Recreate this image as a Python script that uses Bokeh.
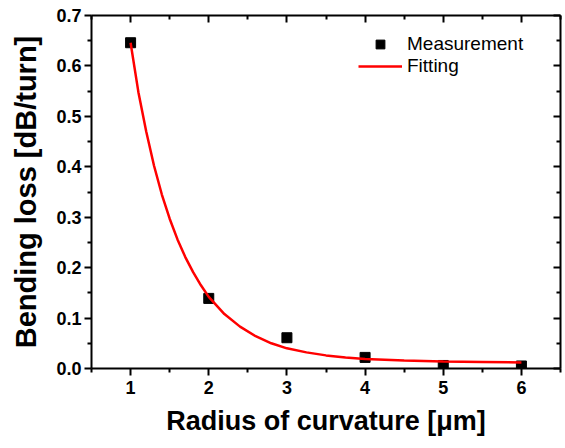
from bokeh.plotting import figure
from bokeh.models import (LinearAxis, FixedTicker, PrintfTickFormatter, Range1d,
                          Legend, LegendItem)
from bokeh.embed import file_html
from bokeh.resources import INLINE

# Measured data
radius = [1, 2, 3, 4, 5, 6]
loss = [0.646, 0.139, 0.061, 0.022, 0.006, 0.005]

# Fitting curve
fit_x = [1.0, 1.1, 1.2, 1.3, 1.4, 1.5, 1.6, 1.7, 1.8, 1.9, 2.0, 2.2, 2.4, 2.6,
         2.8, 3.0, 3.25, 3.5, 3.75, 4.0, 4.5, 5.0, 5.5, 6.0]
fit_y = [0.646, 0.548, 0.470, 0.402, 0.345, 0.297, 0.256, 0.221, 0.191, 0.165,
         0.142, 0.108, 0.083, 0.064, 0.050, 0.040, 0.032, 0.026, 0.022, 0.019,
         0.016, 0.014, 0.013, 0.012]

x_ticks = [1, 2, 3, 4, 5, 6]
x_minor = [0.5, 1.5, 2.5, 3.5, 4.5, 5.5, 6.5]
y_ticks = [0.0, 0.1, 0.2, 0.3, 0.4, 0.5, 0.6, 0.7]
y_minor = [0.05, 0.15, 0.25, 0.35, 0.45, 0.55, 0.65]

FONT = "Liberation Sans"

p = figure(width=565, height=448, output_backend="svg", toolbar_location=None,
           x_range=Range1d(0.5, 6.5), y_range=Range1d(0, 0.7),
           min_border_left=91, min_border_right=5, min_border_top=15,
           min_border_bottom=80, x_axis_label="Radius of curvature [μm]",
           y_axis_label="Bending loss [dB/turn]")
p.grid.visible = False
p.outline_line_color = None
p.background_fill_color = "white"
p.border_fill_color = "white"

xt = FixedTicker(ticks=x_ticks, minor_ticks=x_minor)
yt = FixedTicker(ticks=y_ticks, minor_ticks=y_minor)

for ax, tk in ((p.xaxis[0], xt), (p.yaxis[0], yt)):
    ax.ticker = tk
    ax.axis_line_width = 2
    ax.axis_line_color = "black"
    ax.major_tick_line_width = 2
    ax.minor_tick_line_width = 2
    ax.major_tick_line_color = "black"
    ax.minor_tick_line_color = "black"
    ax.major_tick_out = 7
    ax.major_tick_in = 0
    ax.minor_tick_out = 4
    ax.minor_tick_in = 0
    ax.major_label_text_font = FONT
    ax.major_label_text_font_style = "bold"
    ax.major_label_text_font_size = "18px"
    ax.major_label_text_color = "black"
    ax.axis_label_text_font = FONT
    ax.axis_label_text_font_style = "bold"
    ax.axis_label_text_color = "black"
    ax.major_label_standoff = 5

p.yaxis[0].major_label_standoff = 3
p.yaxis[0].formatter = PrintfTickFormatter(format="%.1f")
p.xaxis[0].axis_label_text_font_size = "27px"
p.yaxis[0].axis_label_text_font_size = "29px"
p.xaxis[0].axis_label_standoff = 9
p.yaxis[0].axis_label_standoff = 11

for loc, tk, ticks in (("above", xt, x_ticks), ("right", yt, y_ticks)):
    ax = LinearAxis(ticker=tk, axis_line_width=2, axis_line_color="black",
                    major_tick_line_width=2, minor_tick_line_width=2,
                    major_tick_in=7, major_tick_out=0, minor_tick_in=4,
                    minor_tick_out=0, major_label_standoff=0,
                    major_label_overrides={t: "" for t in ticks})
    p.add_layout(ax, loc)

sq = p.scatter(radius, loss, marker="square", size=10, color="black")
ln = p.line(fit_x, fit_y, color="red", line_width=2.5)

legend = Legend(items=[LegendItem(label="Measurement", renderers=[sq]),
                       LegendItem(label="Fitting", renderers=[ln])],
                location=(267, 291), label_text_font=FONT,
                label_text_font_size="19px", label_text_color="black",
                glyph_width=44, glyph_height=22, label_height=22,
                label_standoff=5, spacing=0, padding=0, margin=0,
                border_line_color=None, background_fill_alpha=0)
p.add_layout(legend)

open("out.html", "w").write(file_html(p, INLINE))
